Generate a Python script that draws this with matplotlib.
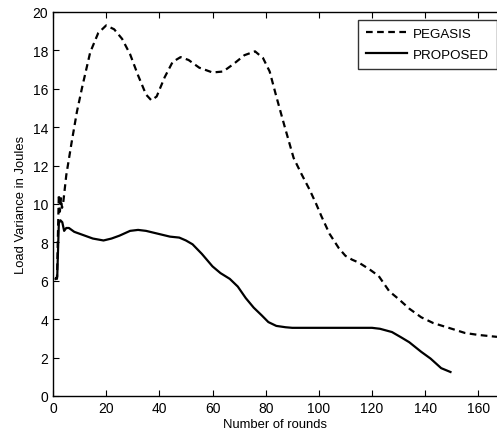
import matplotlib
matplotlib.use("Agg")
import matplotlib.pyplot as plt

plt.rcParams['font.family'] = ['Liberation Sans', 'DejaVu Sans']

pegasis_x = [1, 1.5, 2.2, 2.6, 3.0, 3.4, 3.8, 5, 7, 9, 11, 14, 17, 20, 23, 26, 29, 32, 35, 37, 39, 42, 45, 48, 51, 55, 60, 64, 68, 72, 76, 79, 81.5, 84, 87, 90.5, 93.5, 96.5, 99, 101, 104, 107.5, 110, 112.5, 115, 119, 122.5, 126.5, 130, 134, 138.5, 143, 150, 155, 160, 167]
pegasis_y = [6.2, 6.1, 10.5, 9.6, 10.3, 9.8, 10.0, 11.5, 13.2, 14.8, 16.1, 17.9, 18.9, 19.3, 19.1, 18.6, 17.8, 16.7, 15.7, 15.4, 15.6, 16.6, 17.4, 17.65, 17.5, 17.1, 16.85, 16.9, 17.3, 17.75, 17.95, 17.6, 16.9, 15.6, 14.1, 12.4, 11.55, 10.75, 10.0, 9.35, 8.45, 7.7, 7.3, 7.1, 6.95, 6.6, 6.25, 5.45, 5.05, 4.55, 4.1, 3.8, 3.5, 3.28, 3.18, 3.08]

proposed_x = [1, 1.6, 2.2, 2.8, 3.5, 4.2, 5, 6, 8, 11, 15, 19, 22, 25, 29, 32, 35, 38, 41, 44, 47.5, 50, 52.5, 56, 60, 63, 66.5, 69.5, 72.5, 75.5, 78.5, 81, 84, 87.5, 90, 100, 110, 120, 123, 127.5, 131, 134, 138.5, 142, 146, 149.5]
proposed_y = [6.1, 6.2, 9.0, 9.15, 9.05, 8.6, 8.75, 8.75, 8.55, 8.4, 8.2, 8.1, 8.2, 8.35, 8.6, 8.65, 8.6, 8.5, 8.4, 8.3, 8.25, 8.1, 7.9, 7.4, 6.75, 6.4, 6.1, 5.7, 5.1, 4.6, 4.2, 3.85, 3.65, 3.58, 3.55, 3.55, 3.55, 3.55, 3.5, 3.33, 3.05, 2.8, 2.3, 1.95, 1.45, 1.25]

fig = plt.figure(figsize=(4.97, 4.39), dpi=100)
ax = fig.add_axes([0.1066, 0.0957, 0.8934, 0.8747])
ax.plot(pegasis_x, pegasis_y, color='black', linestyle=(0, (3.0, 2.0)), linewidth=1.6, label='PEGASIS')
ax.plot(proposed_x, proposed_y, color='black', linestyle='-', linewidth=1.6, label='PROPOSED')

ax.set_xlim(0, 167)
ax.set_ylim(0, 20)
ax.set_xticks(range(0, 161, 20))
ax.set_yticks(range(0, 21, 2))
ax.tick_params(direction='in', top=True, right=False, labelsize=10, length=4, width=0.8)
ax.set_xlabel('Number of rounds', fontsize=9.4, labelpad=2)
ax.set_ylabel('Load Variance in Joules', fontsize=9.4, labelpad=4)
for s in ax.spines.values():
    s.set_linewidth(1.0)
ax.spines['right'].set_visible(False)

leg = ax.legend(loc='upper right', bbox_to_anchor=(1.0, 0.98), fontsize=9.6, frameon=True, fancybox=False,
                edgecolor='black', handlelength=3.1, borderaxespad=0.0, labelspacing=0.62,
                handletextpad=0.45, borderpad=0.6)
leg.get_frame().set_linewidth(1.0)

fig.savefig('out.png', dpi=100)
